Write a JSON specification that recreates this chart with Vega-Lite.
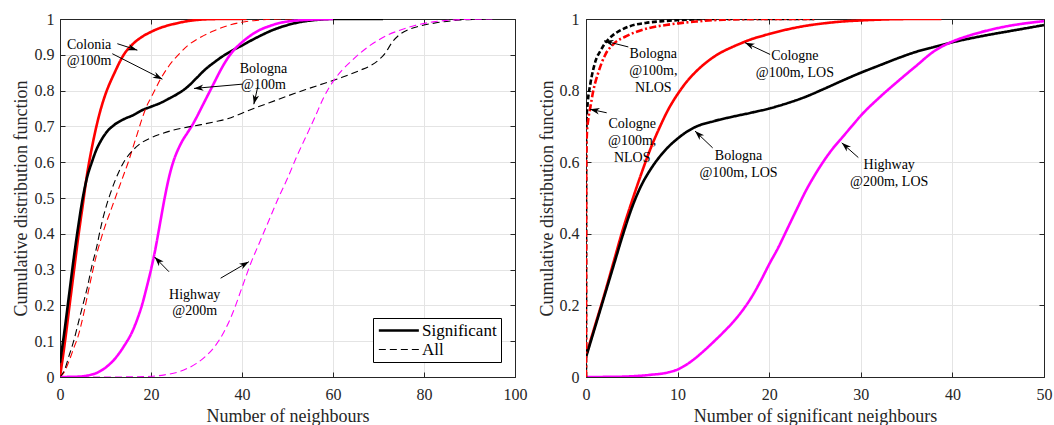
{
  "$schema": "https://vega.github.io/schema/vega-lite/v6.json",
  "padding": {"left": 11, "top": 10, "right": 2, "bottom": 0},
  "spacing": 9,
  "resolve": {
    "scale": {"color": "independent", "strokeDash": "independent", "strokeWidth": "independent"},
    "legend": {"color": "independent", "strokeDash": "independent", "strokeWidth": "independent"}
  },
  "config": {
    "font": "Liberation Serif, Times New Roman, DejaVu Serif, serif",
    "view": {"stroke": "#262626", "strokeWidth": 1},
    "axis": {
      "domainColor": "#262626", "domainWidth": 1,
      "tickColor": "#262626", "tickSize": -5, "tickWidth": 1,
      "gridColor": "#e4e4e4", "gridWidth": 1,
      "labelColor": "#262626", "titleColor": "#262626",
      "labelFont": "Liberation Serif, Times New Roman, DejaVu Serif, serif", "titleFont": "Liberation Serif, Times New Roman, DejaVu Serif, serif",
      "labelFontSize": 16, "titleFontSize": 18, "titleFontWeight": "normal",
      "labelFlush": false, "labelOverlap": false, "labelBound": false
    },
    "legend": {"labelFont": "Liberation Serif, Times New Roman, DejaVu Serif, serif"},
    "text": {"font": "Liberation Serif, Times New Roman, DejaVu Serif, serif"}
  },
  "datasets": {
    "leftCurves": [
      {"place":"Colonia","kind":"Significant","x":0,"y":0},{"place":"Colonia","kind":"Significant","x":1,"y":0.09},{"place":"Colonia","kind":"Significant","x":2,"y":0.19},{"place":"Colonia","kind":"Significant","x":3,"y":0.29},{"place":"Colonia","kind":"Significant","x":4,"y":0.39},{"place":"Colonia","kind":"Significant","x":5,"y":0.48},{"place":"Colonia","kind":"Significant","x":6,"y":0.57},{"place":"Colonia","kind":"Significant","x":7,"y":0.64},{"place":"Colonia","kind":"Significant","x":8,"y":0.7},{"place":"Colonia","kind":"Significant","x":9,"y":0.75},{"place":"Colonia","kind":"Significant","x":10,"y":0.79},{"place":"Colonia","kind":"Significant","x":12,"y":0.85},{"place":"Colonia","kind":"Significant","x":14,"y":0.9},{"place":"Colonia","kind":"Significant","x":16,"y":0.93},{"place":"Colonia","kind":"Significant","x":18,"y":0.95},{"place":"Colonia","kind":"Significant","x":20,"y":0.964},{"place":"Colonia","kind":"Significant","x":22,"y":0.975},{"place":"Colonia","kind":"Significant","x":25,"y":0.986},{"place":"Colonia","kind":"Significant","x":28,"y":0.994},{"place":"Colonia","kind":"Significant","x":32,"y":0.999},{"place":"Colonia","kind":"Significant","x":36,"y":1},{"place":"Colonia","kind":"Significant","x":41,"y":1},
      {"place":"Bologna","kind":"Significant","x":0,"y":0.04},{"place":"Bologna","kind":"Significant","x":1,"y":0.13},{"place":"Bologna","kind":"Significant","x":2,"y":0.23},{"place":"Bologna","kind":"Significant","x":3,"y":0.33},{"place":"Bologna","kind":"Significant","x":4,"y":0.42},{"place":"Bologna","kind":"Significant","x":5,"y":0.5},{"place":"Bologna","kind":"Significant","x":6,"y":0.56},{"place":"Bologna","kind":"Significant","x":7,"y":0.6},{"place":"Bologna","kind":"Significant","x":8,"y":0.635},{"place":"Bologna","kind":"Significant","x":9,"y":0.66},{"place":"Bologna","kind":"Significant","x":10,"y":0.68},{"place":"Bologna","kind":"Significant","x":12,"y":0.705},{"place":"Bologna","kind":"Significant","x":14,"y":0.72},{"place":"Bologna","kind":"Significant","x":16,"y":0.731},{"place":"Bologna","kind":"Significant","x":18,"y":0.745},{"place":"Bologna","kind":"Significant","x":20,"y":0.755},{"place":"Bologna","kind":"Significant","x":22,"y":0.765},{"place":"Bologna","kind":"Significant","x":24,"y":0.778},{"place":"Bologna","kind":"Significant","x":26,"y":0.792},{"place":"Bologna","kind":"Significant","x":28,"y":0.81},{"place":"Bologna","kind":"Significant","x":30,"y":0.835},{"place":"Bologna","kind":"Significant","x":32,"y":0.86},{"place":"Bologna","kind":"Significant","x":34,"y":0.88},{"place":"Bologna","kind":"Significant","x":36,"y":0.898},{"place":"Bologna","kind":"Significant","x":38,"y":0.913},{"place":"Bologna","kind":"Significant","x":40,"y":0.926},{"place":"Bologna","kind":"Significant","x":42,"y":0.94},{"place":"Bologna","kind":"Significant","x":44,"y":0.953},{"place":"Bologna","kind":"Significant","x":46,"y":0.965},{"place":"Bologna","kind":"Significant","x":48,"y":0.975},{"place":"Bologna","kind":"Significant","x":50,"y":0.983},{"place":"Bologna","kind":"Significant","x":53,"y":0.992},{"place":"Bologna","kind":"Significant","x":56,"y":0.997},{"place":"Bologna","kind":"Significant","x":60,"y":1},{"place":"Bologna","kind":"Significant","x":71,"y":1},
      {"place":"Highway","kind":"Significant","x":0,"y":0},{"place":"Highway","kind":"Significant","x":4,"y":0.001},{"place":"Highway","kind":"Significant","x":6,"y":0.004},{"place":"Highway","kind":"Significant","x":8,"y":0.011},{"place":"Highway","kind":"Significant","x":10,"y":0.026},{"place":"Highway","kind":"Significant","x":12,"y":0.05},{"place":"Highway","kind":"Significant","x":14,"y":0.085},{"place":"Highway","kind":"Significant","x":16,"y":0.13},{"place":"Highway","kind":"Significant","x":17,"y":0.162},{"place":"Highway","kind":"Significant","x":18,"y":0.2},{"place":"Highway","kind":"Significant","x":19,"y":0.248},{"place":"Highway","kind":"Significant","x":20,"y":0.3},{"place":"Highway","kind":"Significant","x":21,"y":0.36},{"place":"Highway","kind":"Significant","x":22,"y":0.43},{"place":"Highway","kind":"Significant","x":23,"y":0.5},{"place":"Highway","kind":"Significant","x":24,"y":0.56},{"place":"Highway","kind":"Significant","x":25,"y":0.605},{"place":"Highway","kind":"Significant","x":26,"y":0.637},{"place":"Highway","kind":"Significant","x":27,"y":0.662},{"place":"Highway","kind":"Significant","x":28,"y":0.682},{"place":"Highway","kind":"Significant","x":29,"y":0.702},{"place":"Highway","kind":"Significant","x":30,"y":0.725},{"place":"Highway","kind":"Significant","x":31,"y":0.75},{"place":"Highway","kind":"Significant","x":32,"y":0.775},{"place":"Highway","kind":"Significant","x":33,"y":0.8},{"place":"Highway","kind":"Significant","x":34,"y":0.825},{"place":"Highway","kind":"Significant","x":35,"y":0.85},{"place":"Highway","kind":"Significant","x":36,"y":0.873},{"place":"Highway","kind":"Significant","x":37,"y":0.893},{"place":"Highway","kind":"Significant","x":38,"y":0.91},{"place":"Highway","kind":"Significant","x":40,"y":0.935},{"place":"Highway","kind":"Significant","x":42,"y":0.955},{"place":"Highway","kind":"Significant","x":44,"y":0.97},{"place":"Highway","kind":"Significant","x":46,"y":0.98},{"place":"Highway","kind":"Significant","x":48,"y":0.988},{"place":"Highway","kind":"Significant","x":50,"y":0.993},{"place":"Highway","kind":"Significant","x":55,"y":0.998},{"place":"Highway","kind":"Significant","x":60,"y":1},
      {"place":"Colonia","kind":"All","x":0,"y":0},{"place":"Colonia","kind":"All","x":1,"y":0.015},{"place":"Colonia","kind":"All","x":2,"y":0.045},{"place":"Colonia","kind":"All","x":3,"y":0.08},{"place":"Colonia","kind":"All","x":4,"y":0.115},{"place":"Colonia","kind":"All","x":5,"y":0.165},{"place":"Colonia","kind":"All","x":6,"y":0.225},{"place":"Colonia","kind":"All","x":7,"y":0.285},{"place":"Colonia","kind":"All","x":8,"y":0.34},{"place":"Colonia","kind":"All","x":9,"y":0.385},{"place":"Colonia","kind":"All","x":10,"y":0.425},{"place":"Colonia","kind":"All","x":11,"y":0.46},{"place":"Colonia","kind":"All","x":12,"y":0.495},{"place":"Colonia","kind":"All","x":13,"y":0.53},{"place":"Colonia","kind":"All","x":14,"y":0.565},{"place":"Colonia","kind":"All","x":15,"y":0.6},{"place":"Colonia","kind":"All","x":16,"y":0.64},{"place":"Colonia","kind":"All","x":17,"y":0.68},{"place":"Colonia","kind":"All","x":18,"y":0.72},{"place":"Colonia","kind":"All","x":19,"y":0.755},{"place":"Colonia","kind":"All","x":20,"y":0.78},{"place":"Colonia","kind":"All","x":21,"y":0.805},{"place":"Colonia","kind":"All","x":22,"y":0.83},{"place":"Colonia","kind":"All","x":24,"y":0.87},{"place":"Colonia","kind":"All","x":26,"y":0.9},{"place":"Colonia","kind":"All","x":28,"y":0.925},{"place":"Colonia","kind":"All","x":31,"y":0.95},{"place":"Colonia","kind":"All","x":34,"y":0.968},{"place":"Colonia","kind":"All","x":37,"y":0.982},{"place":"Colonia","kind":"All","x":40,"y":0.991},{"place":"Colonia","kind":"All","x":44,"y":0.997},{"place":"Colonia","kind":"All","x":48,"y":1},{"place":"Colonia","kind":"All","x":51,"y":1},
      {"place":"Bologna","kind":"All","x":0,"y":0},{"place":"Bologna","kind":"All","x":1,"y":0.02},{"place":"Bologna","kind":"All","x":2,"y":0.06},{"place":"Bologna","kind":"All","x":3,"y":0.1},{"place":"Bologna","kind":"All","x":4,"y":0.15},{"place":"Bologna","kind":"All","x":5,"y":0.2},{"place":"Bologna","kind":"All","x":6,"y":0.25},{"place":"Bologna","kind":"All","x":7,"y":0.31},{"place":"Bologna","kind":"All","x":8,"y":0.36},{"place":"Bologna","kind":"All","x":9,"y":0.42},{"place":"Bologna","kind":"All","x":10,"y":0.47},{"place":"Bologna","kind":"All","x":11,"y":0.51},{"place":"Bologna","kind":"All","x":12,"y":0.545},{"place":"Bologna","kind":"All","x":13,"y":0.575},{"place":"Bologna","kind":"All","x":14,"y":0.6},{"place":"Bologna","kind":"All","x":16,"y":0.633},{"place":"Bologna","kind":"All","x":18,"y":0.655},{"place":"Bologna","kind":"All","x":20,"y":0.668},{"place":"Bologna","kind":"All","x":22,"y":0.678},{"place":"Bologna","kind":"All","x":25,"y":0.69},{"place":"Bologna","kind":"All","x":28,"y":0.698},{"place":"Bologna","kind":"All","x":31,"y":0.705},{"place":"Bologna","kind":"All","x":34,"y":0.713},{"place":"Bologna","kind":"All","x":37,"y":0.722},{"place":"Bologna","kind":"All","x":40,"y":0.737},{"place":"Bologna","kind":"All","x":43,"y":0.752},{"place":"Bologna","kind":"All","x":46,"y":0.766},{"place":"Bologna","kind":"All","x":50,"y":0.785},{"place":"Bologna","kind":"All","x":54,"y":0.803},{"place":"Bologna","kind":"All","x":58,"y":0.82},{"place":"Bologna","kind":"All","x":62,"y":0.837},{"place":"Bologna","kind":"All","x":66,"y":0.857},{"place":"Bologna","kind":"All","x":68,"y":0.868},{"place":"Bologna","kind":"All","x":70,"y":0.885},{"place":"Bologna","kind":"All","x":71.5,"y":0.905},{"place":"Bologna","kind":"All","x":73,"y":0.935},{"place":"Bologna","kind":"All","x":74.5,"y":0.955},{"place":"Bologna","kind":"All","x":76.5,"y":0.97},{"place":"Bologna","kind":"All","x":79,"y":0.98},{"place":"Bologna","kind":"All","x":83,"y":0.99},{"place":"Bologna","kind":"All","x":88,"y":0.997},{"place":"Bologna","kind":"All","x":94,"y":1},
      {"place":"Highway","kind":"All","x":0,"y":0},{"place":"Highway","kind":"All","x":10,"y":0},{"place":"Highway","kind":"All","x":16,"y":0.0005},{"place":"Highway","kind":"All","x":20,"y":0.002},{"place":"Highway","kind":"All","x":23,"y":0.006},{"place":"Highway","kind":"All","x":26,"y":0.014},{"place":"Highway","kind":"All","x":28,"y":0.024},{"place":"Highway","kind":"All","x":30,"y":0.038},{"place":"Highway","kind":"All","x":32,"y":0.058},{"place":"Highway","kind":"All","x":34,"y":0.085},{"place":"Highway","kind":"All","x":36,"y":0.125},{"place":"Highway","kind":"All","x":38,"y":0.18},{"place":"Highway","kind":"All","x":40,"y":0.25},{"place":"Highway","kind":"All","x":42,"y":0.32},{"place":"Highway","kind":"All","x":44,"y":0.38},{"place":"Highway","kind":"All","x":46,"y":0.44},{"place":"Highway","kind":"All","x":48,"y":0.5},{"place":"Highway","kind":"All","x":50,"y":0.555},{"place":"Highway","kind":"All","x":52,"y":0.615},{"place":"Highway","kind":"All","x":54,"y":0.67},{"place":"Highway","kind":"All","x":56,"y":0.725},{"place":"Highway","kind":"All","x":58,"y":0.782},{"place":"Highway","kind":"All","x":60,"y":0.825},{"place":"Highway","kind":"All","x":62,"y":0.857},{"place":"Highway","kind":"All","x":64,"y":0.882},{"place":"Highway","kind":"All","x":66,"y":0.905},{"place":"Highway","kind":"All","x":68,"y":0.925},{"place":"Highway","kind":"All","x":70,"y":0.941},{"place":"Highway","kind":"All","x":72,"y":0.955},{"place":"Highway","kind":"All","x":75,"y":0.97},{"place":"Highway","kind":"All","x":78,"y":0.982},{"place":"Highway","kind":"All","x":82,"y":0.992},{"place":"Highway","kind":"All","x":86,"y":0.997},{"place":"Highway","kind":"All","x":90,"y":0.999},{"place":"Highway","kind":"All","x":95,"y":1}
    ],
    "leftNotes": [
      {"label": "Colonia\n@100m", "x": 6.4, "y": 0.926},
      {"label": "Bologna\n@100m", "x": 44.7, "y": 0.86},
      {"label": "Highway\n@200m", "x": 29.6, "y": 0.228}
    ],
    "leftArrows": [
      {"sx": 12.6, "sy": 0.931, "tx": 17.0, "ty": 0.913},
      {"sx": 11.5, "sy": 0.903, "tx": 22.5, "ty": 0.832},
      {"sx": 40.1, "sy": 0.818, "tx": 29.45, "ty": 0.806},
      {"sx": 43.45, "sy": 0.81, "tx": 42.6, "ty": 0.762},
      {"sx": 23.95, "sy": 0.294, "tx": 20.8, "ty": 0.335},
      {"sx": 35.3, "sy": 0.276, "tx": 41.5, "ty": 0.322}
    ],
    "rightCurves": [
      {"curve":"Cologne LOS","x":0,"y":0.06},{"curve":"Cologne LOS","x":1,"y":0.145},{"curve":"Cologne LOS","x":2,"y":0.23},{"curve":"Cologne LOS","x":3,"y":0.32},{"curve":"Cologne LOS","x":4,"y":0.41},{"curve":"Cologne LOS","x":5,"y":0.49},{"curve":"Cologne LOS","x":6,"y":0.565},{"curve":"Cologne LOS","x":7,"y":0.635},{"curve":"Cologne LOS","x":8,"y":0.695},{"curve":"Cologne LOS","x":9,"y":0.748},{"curve":"Cologne LOS","x":10,"y":0.79},{"curve":"Cologne LOS","x":11,"y":0.825},{"curve":"Cologne LOS","x":12,"y":0.853},{"curve":"Cologne LOS","x":13,"y":0.876},{"curve":"Cologne LOS","x":14,"y":0.895},{"curve":"Cologne LOS","x":15,"y":0.91},{"curve":"Cologne LOS","x":16,"y":0.922},{"curve":"Cologne LOS","x":17,"y":0.933},{"curve":"Cologne LOS","x":18,"y":0.943},{"curve":"Cologne LOS","x":20,"y":0.958},{"curve":"Cologne LOS","x":22,"y":0.971},{"curve":"Cologne LOS","x":24,"y":0.981},{"curve":"Cologne LOS","x":26,"y":0.988},{"curve":"Cologne LOS","x":28,"y":0.993},{"curve":"Cologne LOS","x":30,"y":0.996},{"curve":"Cologne LOS","x":33,"y":0.999},{"curve":"Cologne LOS","x":36,"y":1},{"curve":"Cologne LOS","x":38.8,"y":1},
      {"curve":"Bologna LOS","x":0,"y":0.055},{"curve":"Bologna LOS","x":1,"y":0.14},{"curve":"Bologna LOS","x":2,"y":0.225},{"curve":"Bologna LOS","x":3,"y":0.31},{"curve":"Bologna LOS","x":4,"y":0.395},{"curve":"Bologna LOS","x":5,"y":0.472},{"curve":"Bologna LOS","x":6,"y":0.533},{"curve":"Bologna LOS","x":7,"y":0.578},{"curve":"Bologna LOS","x":8,"y":0.614},{"curve":"Bologna LOS","x":9,"y":0.643},{"curve":"Bologna LOS","x":10,"y":0.666},{"curve":"Bologna LOS","x":11,"y":0.685},{"curve":"Bologna LOS","x":12,"y":0.699},{"curve":"Bologna LOS","x":14,"y":0.715},{"curve":"Bologna LOS","x":16,"y":0.727},{"curve":"Bologna LOS","x":18,"y":0.738},{"curve":"Bologna LOS","x":20,"y":0.75},{"curve":"Bologna LOS","x":22,"y":0.765},{"curve":"Bologna LOS","x":24,"y":0.783},{"curve":"Bologna LOS","x":26,"y":0.805},{"curve":"Bologna LOS","x":28,"y":0.828},{"curve":"Bologna LOS","x":30,"y":0.85},{"curve":"Bologna LOS","x":32,"y":0.87},{"curve":"Bologna LOS","x":34,"y":0.89},{"curve":"Bologna LOS","x":36,"y":0.908},{"curve":"Bologna LOS","x":38,"y":0.922},{"curve":"Bologna LOS","x":40,"y":0.935},{"curve":"Bologna LOS","x":42,"y":0.946},{"curve":"Bologna LOS","x":44,"y":0.956},{"curve":"Bologna LOS","x":46,"y":0.965},{"curve":"Bologna LOS","x":48,"y":0.974},{"curve":"Bologna LOS","x":50,"y":0.983},
      {"curve":"Highway LOS","x":0,"y":0},{"curve":"Highway LOS","x":3,"y":0.0005},{"curve":"Highway LOS","x":5,"y":0.002},{"curve":"Highway LOS","x":7,"y":0.006},{"curve":"Highway LOS","x":9,"y":0.013},{"curve":"Highway LOS","x":10,"y":0.021},{"curve":"Highway LOS","x":11,"y":0.035},{"curve":"Highway LOS","x":12,"y":0.054},{"curve":"Highway LOS","x":13,"y":0.076},{"curve":"Highway LOS","x":14,"y":0.1},{"curve":"Highway LOS","x":15,"y":0.125},{"curve":"Highway LOS","x":16,"y":0.152},{"curve":"Highway LOS","x":17,"y":0.183},{"curve":"Highway LOS","x":18,"y":0.22},{"curve":"Highway LOS","x":19,"y":0.265},{"curve":"Highway LOS","x":20,"y":0.315},{"curve":"Highway LOS","x":21,"y":0.362},{"curve":"Highway LOS","x":22,"y":0.415},{"curve":"Highway LOS","x":23,"y":0.468},{"curve":"Highway LOS","x":24,"y":0.52},{"curve":"Highway LOS","x":25,"y":0.565},{"curve":"Highway LOS","x":26,"y":0.605},{"curve":"Highway LOS","x":27,"y":0.64},{"curve":"Highway LOS","x":28,"y":0.67},{"curve":"Highway LOS","x":29,"y":0.7},{"curve":"Highway LOS","x":30,"y":0.73},{"curve":"Highway LOS","x":32,"y":0.78},{"curve":"Highway LOS","x":34,"y":0.825},{"curve":"Highway LOS","x":36,"y":0.868},{"curve":"Highway LOS","x":38,"y":0.91},{"curve":"Highway LOS","x":40,"y":0.937},{"curve":"Highway LOS","x":42,"y":0.955},{"curve":"Highway LOS","x":44,"y":0.969},{"curve":"Highway LOS","x":46,"y":0.98},{"curve":"Highway LOS","x":48,"y":0.988},{"curve":"Highway LOS","x":50,"y":0.994},
      {"curve":"Bologna NLOS","x":0,"y":0},{"curve":"Bologna NLOS","x":0.02,"y":0.66},{"curve":"Bologna NLOS","x":0.07,"y":0.72},{"curve":"Bologna NLOS","x":0.2,"y":0.77},{"curve":"Bologna NLOS","x":0.45,"y":0.815},{"curve":"Bologna NLOS","x":0.8,"y":0.86},{"curve":"Bologna NLOS","x":1.1,"y":0.887},{"curve":"Bologna NLOS","x":1.6,"y":0.912},{"curve":"Bologna NLOS","x":2.1,"y":0.933},{"curve":"Bologna NLOS","x":2.8,"y":0.952},{"curve":"Bologna NLOS","x":3.4,"y":0.963},{"curve":"Bologna NLOS","x":4.8,"y":0.98},{"curve":"Bologna NLOS","x":6.5,"y":0.989},{"curve":"Bologna NLOS","x":8.4,"y":0.994},{"curve":"Bologna NLOS","x":11,"y":0.998},{"curve":"Bologna NLOS","x":14,"y":1},{"curve":"Bologna NLOS","x":25,"y":1},
      {"curve":"Cologne NLOS","x":0,"y":0},{"curve":"Cologne NLOS","x":0.03,"y":0.6},{"curve":"Cologne NLOS","x":0.1,"y":0.68},{"curve":"Cologne NLOS","x":0.25,"y":0.72},{"curve":"Cologne NLOS","x":0.45,"y":0.75},{"curve":"Cologne NLOS","x":0.8,"y":0.8},{"curve":"Cologne NLOS","x":1.34,"y":0.85},{"curve":"Cologne NLOS","x":2.1,"y":0.9},{"curve":"Cologne NLOS","x":3,"y":0.93},{"curve":"Cologne NLOS","x":4.4,"y":0.952},{"curve":"Cologne NLOS","x":6.2,"y":0.97},{"curve":"Cologne NLOS","x":9.2,"y":0.985},{"curve":"Cologne NLOS","x":12,"y":0.993},{"curve":"Cologne NLOS","x":15,"y":0.998},{"curve":"Cologne NLOS","x":19,"y":1},{"curve":"Cologne NLOS","x":25,"y":1}
    ],
    "rightNotes": [
      {"label": "Bologna\n@100m,\nNLOS", "x": 7.35, "y": 0.901},
      {"label": "Cologne\n@100m,\nNLOS", "x": 5.04, "y": 0.708},
      {"label": "Cologne\n@100m, LOS", "x": 22.8, "y": 0.897},
      {"label": "Bologna\n@100m, LOS", "x": 16.65, "y": 0.616},
      {"label": "Highway\n@200m, LOS", "x": 33.1, "y": 0.593}
    ],
    "rightArrows": [
      {"sx": 4.62, "sy": 0.922, "tx": 1.97, "ty": 0.939},
      {"sx": 2.26, "sy": 0.738, "tx": 0.44, "ty": 0.748},
      {"sx": 20.1, "sy": 0.901, "tx": 17.36, "ty": 0.934},
      {"sx": 13.83, "sy": 0.64, "tx": 11.9, "ty": 0.687},
      {"sx": 29.73, "sy": 0.613, "tx": 27.92, "ty": 0.654}
    ]
  },
  "hconcat": [
    {
      "width": 455,
      "height": 358,
      "resolve": {"axis": {"x": "independent", "y": "independent"}},
      "layer": [
        {
          "data": {"name": "leftCurves"},
          "mark": {"type": "line", "clip": true, "interpolate": "monotone"},
          "encoding": {
            "x": {"field": "x", "type": "quantitative", "scale": {"domain": [0, 100], "nice": false},
                  "axis": {"orient": "bottom", "values": [0, 20, 40, 60, 80, 100], "title": "Number of neighbours", "labelPadding": 14, "titlePadding": 5}},
            "y": {"field": "y", "type": "quantitative", "scale": {"domain": [0, 1], "nice": false},
                  "axis": {"orient": "left", "values": [0, 0.1, 0.2, 0.3, 0.4, 0.5, 0.6, 0.7, 0.8, 0.9, 1], "format": "~g", "title": "Cumulative distribution function", "labelPadding": 11, "titlePadding": 4}},
            "color": {"field": "place", "type": "nominal", "scale": {"domain": ["Colonia", "Bologna", "Highway"], "range": ["#ff0000", "#000000", "#ff00ff"]}, "legend": null},
            "strokeDash": {"field": "kind", "type": "nominal", "scale": {"domain": ["Significant", "All"], "range": [[1, 0], [7, 4]]},
                           "legend": {"title": null, "orient": "none", "legendX": 313, "legendY": 299, "strokeColor": "#000000", "fillColor": "#ffffff", "padding": 4, "symbolType": "M-1,0H5", "symbolSize": 178, "symbolStrokeColor": "#000000", "symbolFillColor": "transparent", "labelFontSize": 17, "labelColor": "#000000", "labelOffset": 28, "rowPadding": 1, "cornerRadius": 0}},
            "strokeWidth": {"field": "kind", "type": "nominal", "scale": {"domain": ["Significant", "All"], "range": [2.6, 1.1]},
                            "legend": {"title": null, "orient": "none", "legendX": 313, "legendY": 299, "strokeColor": "#000000", "fillColor": "#ffffff", "padding": 4, "symbolType": "M-1,0H5", "symbolSize": 178, "symbolStrokeColor": "#000000", "symbolFillColor": "transparent", "labelFontSize": 17, "labelColor": "#000000", "labelOffset": 28, "rowPadding": 1, "cornerRadius": 0}},
            "order": {"value": null}
          }
        },
        {
          "data": {"name": "leftArrows"},
          "mark": {"type": "rule", "color": "#000000", "strokeWidth": 1},
          "encoding": {
            "x": {"field": "sx", "type": "quantitative", "axis": null},
            "y": {"field": "sy", "type": "quantitative", "axis": null},
            "x2": {"field": "tx"},
            "y2": {"field": "ty"}
          }
        },
        {
          "data": {"name": "leftArrows"},
          "transform": [{"calculate": "atan2((datum.tx - datum.sx) * 4.55, (datum.ty - datum.sy) * 358) * 180 / PI", "as": "ang"}],
          "mark": {"type": "point", "shape": "M0,0L0.65,1.9L0,1.35L-0.65,1.9Z", "filled": true, "color": "#000000", "opacity": 1, "size": 100},
          "encoding": {
            "x": {"field": "tx", "type": "quantitative", "axis": null},
            "y": {"field": "ty", "type": "quantitative", "axis": null},
            "angle": {"field": "ang", "type": "quantitative", "scale": null}
          }
        },
        {
          "data": {"name": "leftNotes"},
          "mark": {"type": "text", "lineBreak": "\n", "align": "center", "baseline": "middle", "fontSize": 14, "lineHeight": 16, "color": "#000000"},
          "encoding": {
            "x": {"field": "x", "type": "quantitative", "axis": null},
            "y": {"field": "y", "type": "quantitative", "axis": null},
            "text": {"field": "label"}
          }
        },
        {
          "data": {"name": "leftCurves"},
          "mark": {"type": "point", "opacity": 0},
          "encoding": {
            "x": {"field": "x", "type": "quantitative", "axis": {"orient": "top", "values": [0, 20, 40, 60, 80, 100], "labels": false, "title": null, "grid": false}},
            "y": {"field": "y", "type": "quantitative", "axis": {"orient": "right", "values": [0, 0.1, 0.2, 0.3, 0.4, 0.5, 0.6, 0.7, 0.8, 0.9, 1], "labels": false, "title": null, "grid": false}}
          }
        }
      ]
    },
    {
      "width": 458,
      "height": 358,
      "resolve": {"axis": {"x": "independent", "y": "independent"}},
      "layer": [
        {
          "data": {"name": "rightCurves"},
          "mark": {"type": "line", "clip": true, "interpolate": "monotone"},
          "encoding": {
            "x": {"field": "x", "type": "quantitative", "scale": {"domain": [0, 50], "nice": false},
                  "axis": {"orient": "bottom", "values": [0, 10, 20, 30, 40, 50], "title": "Number of significant neighbours", "labelPadding": 14, "titlePadding": 5}},
            "y": {"field": "y", "type": "quantitative", "scale": {"domain": [0, 1], "nice": false},
                  "axis": {"orient": "left", "values": [0, 0.2, 0.4, 0.6, 0.8, 1], "format": "~g", "title": "Cumulative distribution function", "labelPadding": 12, "titlePadding": 3}},
            "color": {"field": "curve", "type": "nominal", "scale": {"domain": ["Cologne LOS", "Bologna LOS", "Highway LOS", "Bologna NLOS", "Cologne NLOS"], "range": ["#ff0000", "#000000", "#ff00ff", "#000000", "#ff0000"]}, "legend": null},
            "strokeDash": {"field": "curve", "type": "nominal", "scale": {"domain": ["Cologne LOS", "Bologna LOS", "Highway LOS", "Bologna NLOS", "Cologne NLOS"], "range": [[1, 0], [1, 0], [1, 0], [5, 2.5], [7, 2.5, 2, 2.5]]}, "legend": null},
            "strokeWidth": {"value": 2.6},
            "order": {"value": null}
          }
        },
        {
          "data": {"name": "rightArrows"},
          "mark": {"type": "rule", "color": "#000000", "strokeWidth": 1},
          "encoding": {
            "x": {"field": "sx", "type": "quantitative", "axis": null},
            "y": {"field": "sy", "type": "quantitative", "axis": null},
            "x2": {"field": "tx"},
            "y2": {"field": "ty"}
          }
        },
        {
          "data": {"name": "rightArrows"},
          "transform": [{"calculate": "atan2((datum.tx - datum.sx) * 9.16, (datum.ty - datum.sy) * 358) * 180 / PI", "as": "ang"}],
          "mark": {"type": "point", "shape": "M0,0L0.65,1.9L0,1.35L-0.65,1.9Z", "filled": true, "color": "#000000", "opacity": 1, "size": 100},
          "encoding": {
            "x": {"field": "tx", "type": "quantitative", "axis": null},
            "y": {"field": "ty", "type": "quantitative", "axis": null},
            "angle": {"field": "ang", "type": "quantitative", "scale": null}
          }
        },
        {
          "data": {"name": "rightNotes"},
          "mark": {"type": "text", "lineBreak": "\n", "align": "center", "baseline": "middle", "fontSize": 14, "lineHeight": 17, "color": "#000000"},
          "encoding": {
            "x": {"field": "x", "type": "quantitative", "axis": null},
            "y": {"field": "y", "type": "quantitative", "axis": null},
            "text": {"field": "label"}
          }
        },
        {
          "data": {"name": "rightCurves"},
          "mark": {"type": "point", "opacity": 0},
          "encoding": {
            "x": {"field": "x", "type": "quantitative", "axis": {"orient": "top", "values": [0, 10, 20, 30, 40, 50], "labels": false, "title": null, "grid": false}},
            "y": {"field": "y", "type": "quantitative", "axis": {"orient": "right", "values": [0, 0.2, 0.4, 0.6, 0.8, 1], "labels": false, "title": null, "grid": false}}
          }
        }
      ]
    }
  ]
}
